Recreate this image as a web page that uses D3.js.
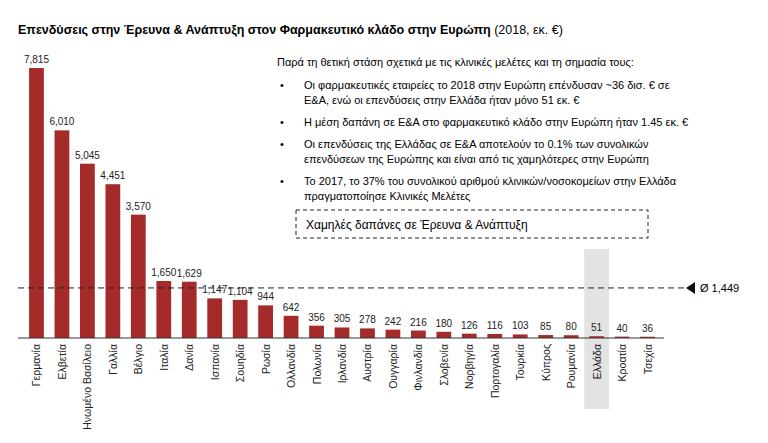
<!DOCTYPE html>
<html><head><meta charset="utf-8">
<script src="https://cdn.jsdelivr.net/npm/d3@7"></script>
<style>body{margin:0;background:#fff;font-family:"Liberation Sans",Arial,sans-serif}</style>
</head><body>
<svg id="c" width="768" height="443"></svg>
<script>
// Chart data
var countries = ["Γερμανία","Ελβετία","Ηνωμένο Βασίλειο","Γαλλία","Βέλγιο","Ιταλία","Δανία","Ισπανία","Σουηδία","Ρωσία","Ολλανδία","Πολωνία","Ιρλανδία","Αυστρία","Ουγγαρία","Φινλανδία","Σλοβενία","Νορβηγία","Πορτογαλία","Τουρκία","Κύπρος","Ρουμανία","Ελλάδα","Κροατία","Τσεχία"];
var spend = [7815,6010,5045,4451,3570,1650,1629,1147,1104,944,642,356,305,278,242,216,180,126,116,103,85,80,51,40,36];
var average = 1449;
var bullets = [
  ["Οι φαρμακευτικές εταιρείες το 2018 στην Ευρώπη επένδυσαν ~36 δισ. € σε","Ε&Α, ενώ οι επενδύσεις στην Ελλάδα ήταν μόνο 51 εκ. €"],
  ["Η μέση δαπάνη σε Ε&Α στο φαρμακευτικό κλάδο στην Ευρώπη ήταν 1.45 εκ. €"],
  ["Οι επενδύσεις της Ελλάδας σε Ε&Α αποτελούν το 0.1% των συνολικών","επενδύσεων της Ευρώπης και είναι από τις χαμηλότερες στην Ευρώπη"],
  ["Το 2017, το 37% του συνολικού αριθμού κλινικών/νοσοκομείων στην Ελλάδα","πραγματοποίησε Κλινικές Μελέτες"]
];

var svg = d3.select("#c");
var fmt = d3.format(",");

var x = d3.scaleBand().domain(countries).range([24, 660]).paddingInner(0.42).paddingOuter(0.2);
var y = d3.scaleLinear().domain([0, 7815]).range([338, 68]);

// Title
var t = svg.append("text").attr("x", 18).attr("y", 34).attr("font-size", 12.5);
t.append("tspan").attr("font-weight", "bold").text("Επενδύσεις στην Έρευνα & Ανάπτυξη στον Φαρμακευτικό κλάδο στην Ευρώπη");
t.append("tspan").text(" (2018, εκ. €)");

// Highlight for Greece
svg.append("rect").attr("x", x("Ελλάδα") - 5).attr("width", x.bandwidth() + 10)
  .attr("y", 249).attr("height", 160).attr("fill", "#e3e3e3");

// Bars
svg.selectAll(".bar").data(spend).enter().append("rect")
  .attr("x", (d, i) => x(countries[i]))
  .attr("width", x.bandwidth())
  .attr("y", d => y(d))
  .attr("height", d => y(0) - y(d))
  .attr("fill", "#a52a2a");

// Value labels
svg.selectAll(".val").data(spend).enter().append("text")
  .attr("x", (d, i) => x(countries[i]) + x.bandwidth() / 2)
  .attr("y", d => y(d) - 5)
  .attr("text-anchor", "middle").attr("font-size", 10).attr("fill", "#222")
  .text(d => fmt(d));

// Baseline
svg.append("line").attr("x1", 18).attr("x2", 664).attr("y1", y(0)).attr("y2", y(0)).attr("stroke", "#333");

// Category labels (rotated)
svg.selectAll(".cat").data(countries).enter().append("text")
  .attr("transform", d => "translate(" + (x(d) + x.bandwidth() / 2 + 4) + "," + (y(0) + 6) + ") rotate(-90)")
  .attr("text-anchor", "end").attr("font-size", 10.5).attr("fill", "#222")
  .text(d => d);

// Average line
svg.append("line").attr("x1", 18).attr("x2", 684).attr("y1", y(average)).attr("y2", y(average))
  .attr("stroke", "#222").attr("stroke-dasharray", "6,4");
svg.append("path").attr("d", "M686," + y(average) + " l9,-6 v12 z").attr("fill", "#111");
svg.append("text").attr("x", 700).attr("y", y(average) + 4).attr("font-size", 11).text("Ø " + fmt(average));

// Text block
svg.append("text").attr("x", 277).attr("y", 66).attr("font-size", 11).text("Παρά τη θετική στάση σχετικά με τις κλινικές μελέτες και τη σημασία τους:");
var by = 89;
bullets.forEach(function (b) {
  svg.append("text").attr("x", 280).attr("y", by).attr("font-size", 11).text("•");
  b.forEach(function (line, j) {
    svg.append("text").attr("x", 304).attr("y", by + j * 15).attr("font-size", 11).text(line);
  });
  by += b.length * 15 + 7;
});

// Dashed box
svg.append("rect").attr("x", 296).attr("y", 210).attr("width", 352).attr("height", 28)
  .attr("fill", "none").attr("stroke", "#222").attr("stroke-dasharray", "4,3");
svg.append("text").attr("x", 306).attr("y", 229).attr("font-size", 12).text("Χαμηλές δαπάνες σε Έρευνα & Ανάπτυξη");
</script>
</body></html>
